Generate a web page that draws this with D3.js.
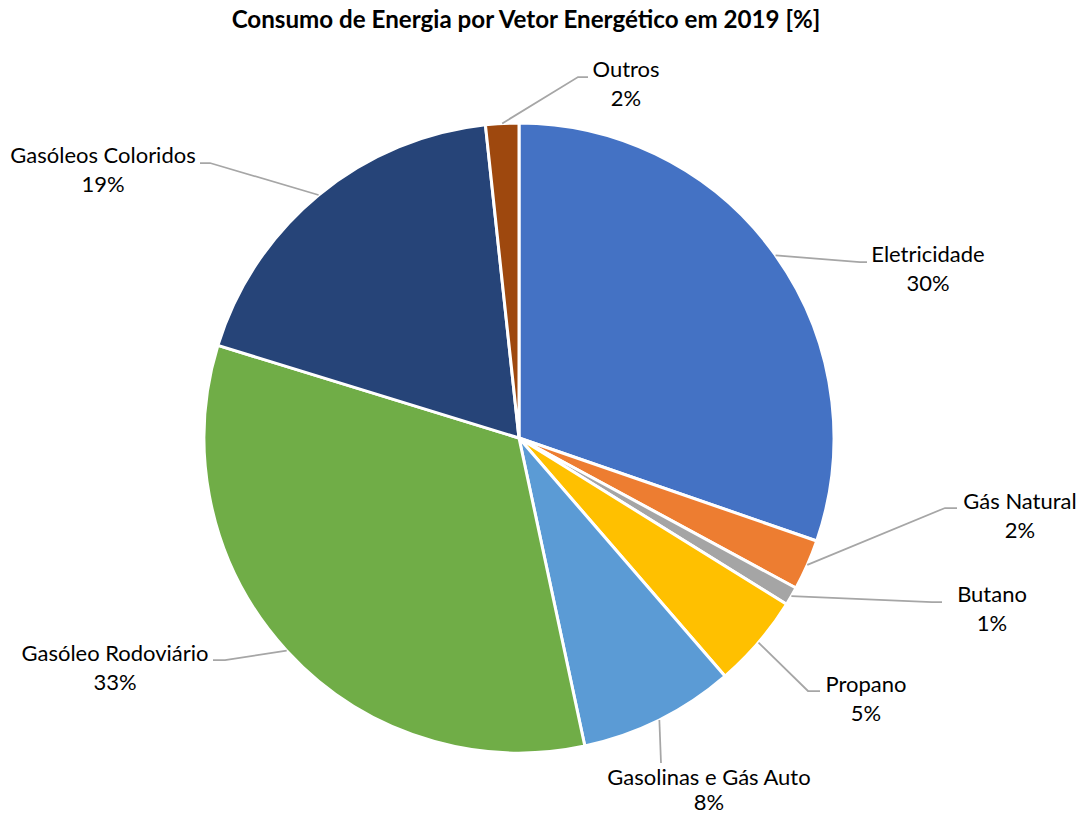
<!DOCTYPE html>
<html>
<head>
<meta charset="utf-8">
<script src="https://cdn.jsdelivr.net/npm/d3@7"></script>
<style>
  html, body { margin: 0; padding: 0; background: #fff; }
  svg { display: block; }
</style>
</head>
<body>
<svg id="chart" width="1080" height="815"></svg>
<script>
// ---- Data ----
const categories = ["Eletricidade", "Gás Natural", "Butano", "Propano",
  "Gasolinas e Gás Auto", "Gasóleo Rodoviário", "Gasóleos Coloridos", "Outros"];
const values = [30.3, 2.6, 0.95, 4.8, 8.0, 33.1, 18.55, 1.7];
const percentLabels = ["30%", "2%", "1%", "5%", "8%", "33%", "19%", "2%"];
const colors = ["#4472C4", "#ED7D31", "#A5A5A5", "#FFC000", "#5B9BD5", "#70AD47", "#264478", "#9E480E"];
const title = "Consumo de Energia por Vetor Energético em 2019 [%]";

// ---- Layout (label placement, offsets relative to pie centre) ----
const cx = 519, cy = 438, R = 315;
// tx: text centre x offset, ty: first-line baseline offset, gap: line gap, ex/ey: elbow, hx: leader end x
const labelLayout = [
  { tx: 409, ty: -176, gap: 29, ex: 341, ey: -176, hx: 348 },   // Eletricidade
  { tx: 501, ty: 71,  gap: 29, ex: 426, ey: 70,  hx: 438 },     // Gás Natural
  { tx: 473, ty: 164, gap: 29, ex: 413, ey: 164, hx: 423 },     // Butano
  { tx: 347, ty: 254, gap: 29, ex: 289, ey: 253, hx: 301 },     // Propano
  { tx: 190, ty: 347, gap: 25, ex: 142, ey: 325, hx: 142 },     // Gasolinas
  { tx: -404, ty: 223, gap: 29, ex: -294, ey: 222, hx: -306 },  // Rodoviário
  { tx: -416, ty: -275, gap: 29, ex: -309, ey: -275, hx: -319 },// Coloridos
  { tx: 107, ty: -361, gap: 29, ex: 59, ey: -361, hx: 69 }      // Outros
];

const svg = d3.select("#chart");
const fontFamily = "Lato, 'Open Sans', 'Liberation Sans', sans-serif";

// Title
const titleText = svg.append("text")
  .attr("x", 526).attr("y", 28)
  .attr("text-anchor", "middle")
  .style("font-family", fontFamily)
  .style("font-weight", "bold")
  .style("font-size", "21px")
  .attr("fill", "#000")
  .text(title);
{
  const w = titleText.node().getComputedTextLength();
  titleText.style("font-size", (21 * 589 / w).toFixed(2) + "px");
}

const pie = d3.pie().sort(null).value(d => d)(values);
const arc = d3.arc().innerRadius(0).outerRadius(R);

const g = svg.append("g").attr("transform", `translate(${cx},${cy})`);

g.selectAll("path.slice")
  .data(pie)
  .join("path")
  .attr("class", "slice")
  .attr("d", arc)
  .attr("fill", (d, i) => colors[i])
  .attr("stroke", "#fff")
  .attr("stroke-width", 3)
  .attr("stroke-linejoin", "round");

// Leader lines
g.selectAll("polyline.leader")
  .data(pie)
  .join("polyline")
  .attr("class", "leader")
  .attr("fill", "none")
  .attr("stroke", "#A6A6A6")
  .attr("stroke-width", 1.75)
  .attr("points", (d, i) => {
    const a = (d.startAngle + d.endAngle) / 2;
    const sx = R * Math.sin(a), sy = -R * Math.cos(a);
    const L = labelLayout[i];
    return [[sx, sy], [L.ex, L.ey], [L.hx, L.ey]].map(p => p.join(",")).join(" ");
  });

// Labels
const lbl = g.selectAll("text.lbl")
  .data(pie)
  .join("text")
  .attr("class", "lbl")
  .attr("text-anchor", "middle")
  .style("font-family", fontFamily)
  .style("font-size", "20px")
  .attr("fill", "#000");
lbl.append("tspan")
  .attr("x", (d, i) => labelLayout[i].tx)
  .attr("y", (d, i) => labelLayout[i].ty)
  .text((d, i) => categories[i]);
lbl.append("tspan")
  .attr("x", (d, i) => labelLayout[i].tx)
  .attr("y", (d, i) => labelLayout[i].ty + labelLayout[i].gap)
  .text((d, i) => percentLabels[i]);

{
  const node = lbl.filter((d, i) => i === 5).select("tspan").node();
  const w = node.getComputedTextLength();
  lbl.style("font-size", (20 * 187 / w).toFixed(2) + "px");
}
</script>
</body>
</html>
